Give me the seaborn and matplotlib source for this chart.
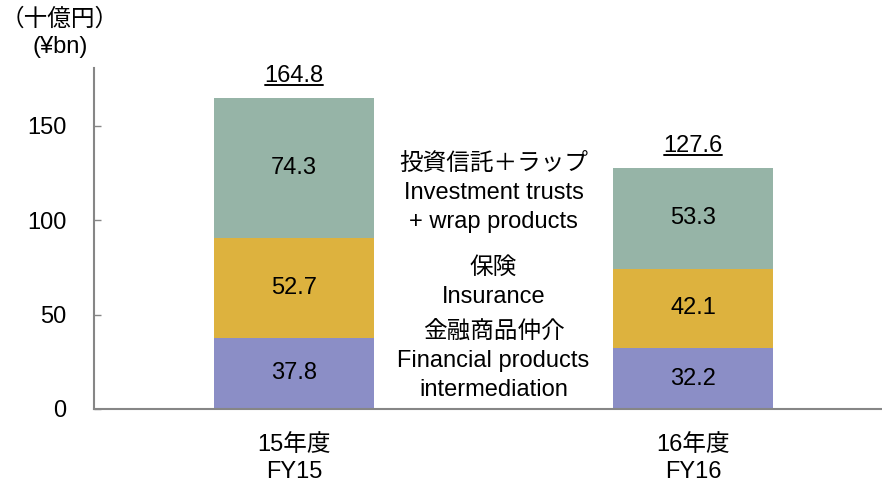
import matplotlib
matplotlib.use("Agg")
import matplotlib.pyplot as plt
import numpy as np
import pandas as pd
import seaborn as sns

# data
years = ["15年度\nFY15", "16年度\nFY16"]
financial = [37.8, 32.2]
insurance = [52.7, 42.1]
trusts = [74.3, 53.3]
totals = [164.8, 127.6]

segment_names = [
    "金融商品仲介\nFinancial products\nintermediation",
    "保険\nInsurance",
    "投資信託＋ラップ\nInvestment trusts\n+ wrap products",
]
segment_colors = ["#8B8EC6", "#DDB23E", "#96B4A7"]

sns.set_theme(style="white")
plt.rcParams["font.family"] = ["Liberation Sans", "Noto Sans CJK JP"]

FS = 17

df = pd.DataFrame({
    "year": years,
    "financial": financial,
    "insurance": insurance,
    "trusts": trusts,
})
layers = [df["financial"].values, df["insurance"].values, df["trusts"].values]
cum = np.cumsum(layers, axis=0)

fig = plt.figure(figsize=(8.82, 4.82), dpi=100)
ax = fig.add_axes([0.1066, 0.1515, 0.8923, 0.7075])

# draw tallest stack first so lower layers overlay it
for i in reversed(range(3)):
    sns.barplot(x=df["year"], y=cum[i], color=segment_colors[i], width=0.4,
                saturation=1, edgecolor="none", linewidth=0, ax=ax)

ax.set_xlim(-0.501, 1.471)
ax.set_ylim(0, 180.7)
ax.set_yticks([0, 50, 100, 150])
ax.set_xlabel("")
ax.set_ylabel("")

# segment values
for j in range(len(years)):
    base = 0.0
    for i in range(3):
        v = layers[i][j]
        ax.text(j, base + v / 2, f"{v:.1f}", ha="center", va="center",
                fontsize=FS, color="#000000")
        base += v

# totals, underlined
fig.canvas.draw()
renderer = fig.canvas.get_renderer()
for j, t in enumerate(totals):
    txt = ax.annotate(f"{t:.1f}", (j, t), xytext=(0, 8), textcoords="offset points",
                      ha="center", va="bottom", fontsize=FS, color="#000000")
    bb = txt.get_window_extent(renderer=renderer)
    inv = fig.transFigure.inverted()
    (x0, y0), (x1, _) = inv.transform([(bb.x0 + 1, bb.y0 + 2), (bb.x1 - 1, bb.y0)])
    fig.add_artist(plt.Line2D([x0, x1], [y0, y0], color="#000000", lw=1.4))

# middle category labels
label_y = [25.5, 67.0, 114.5]
for name, yv in zip(segment_names, label_y):
    ax.text(0.5, yv, name, ha="center", va="center", fontsize=FS,
            linespacing=1.4, color="#000000")

# axes styling
for s in ["top", "right"]:
    ax.spines[s].set_visible(False)
for s in ["left", "bottom"]:
    ax.spines[s].set_color("#868686")
    ax.spines[s].set_linewidth(1.5)
ax.tick_params(axis="y", direction="in", length=5, width=1, color="#868686",
               labelsize=FS, pad=20, left=True, labelcolor="#000000")
ax.tick_params(axis="x", length=0, labelsize=FS, pad=18, labelcolor="#000000")
for lab in ax.get_xticklabels():
    lab.set_linespacing(1.3)

fig.text(0.068, 0.982, "（十億円）\n(¥bn)", ha="center", va="top", fontsize=FS,
         linespacing=1.3, color="#000000")

fig.savefig("out.png", dpi=100)
